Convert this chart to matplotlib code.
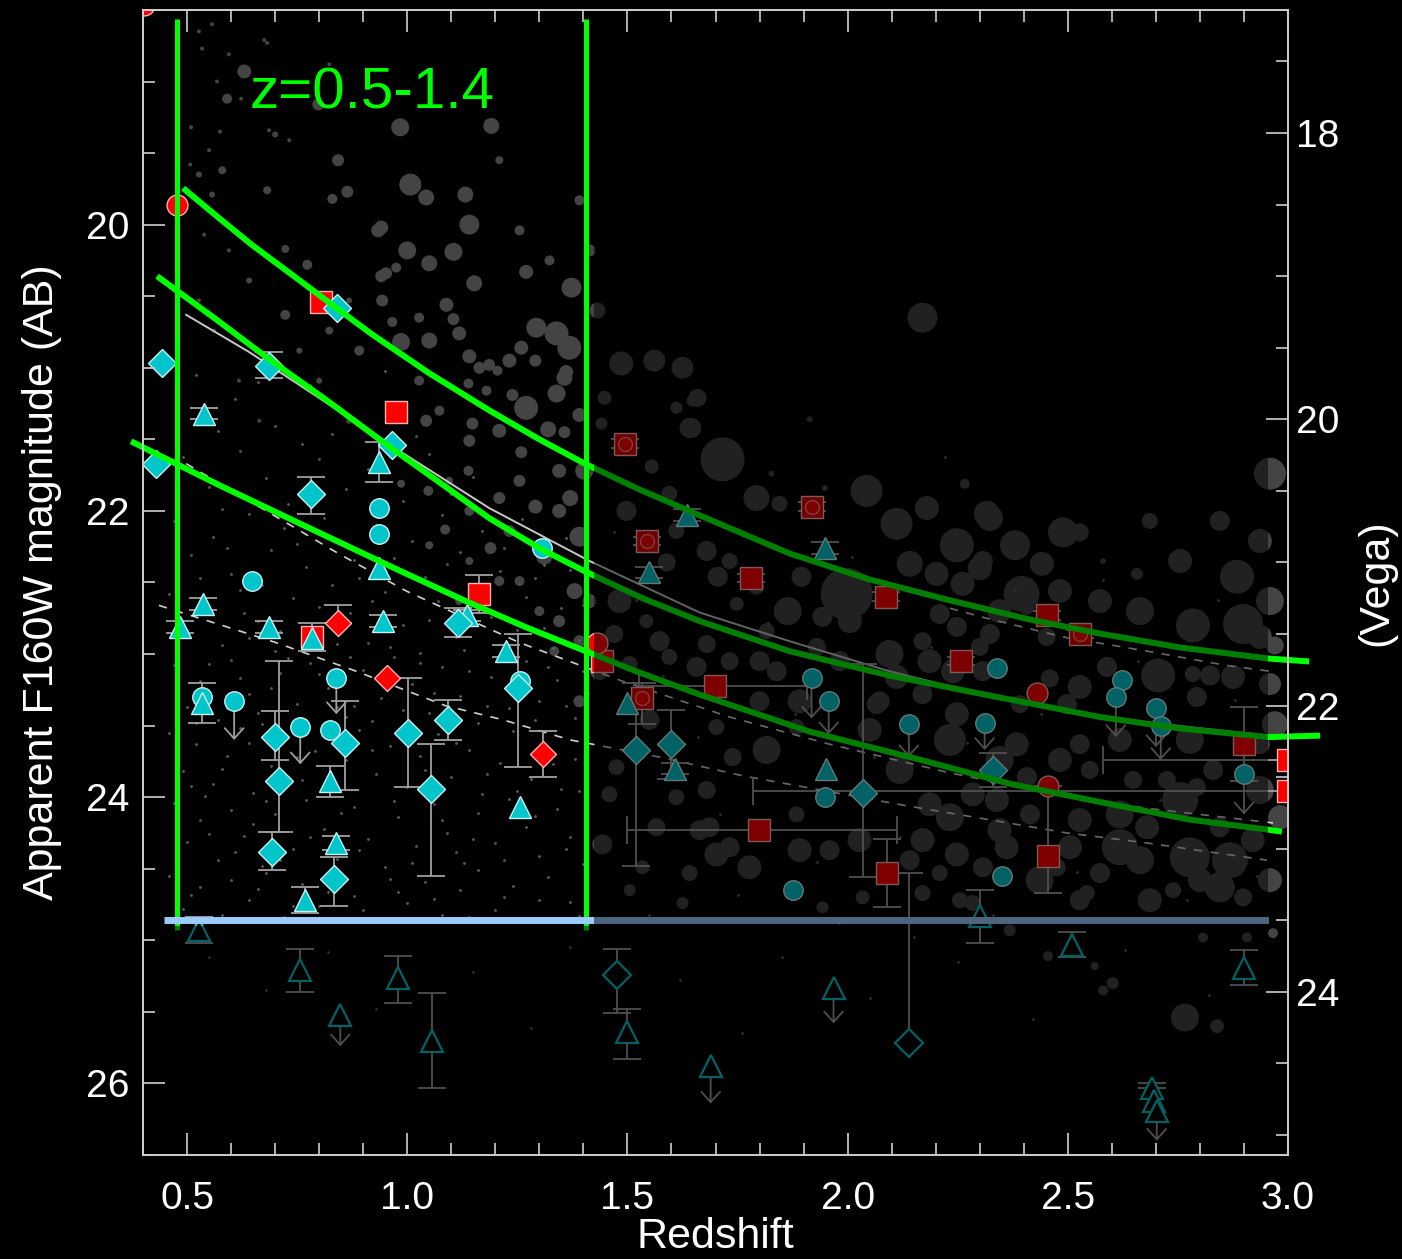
import matplotlib
matplotlib.use("Agg")
import matplotlib.pyplot as plt
from matplotlib.patches import Rectangle
from matplotlib.ticker import FixedLocator, MultipleLocator

plt.rcParams['font.family'] = ['Liberation Sans', 'DejaVu Sans']

AB_MINUS_VEGA = 1.36

# ---------------------------------------------------------------------------
# Field galaxies (grey background): (redshift, F160W AB mag, relative size)
# ---------------------------------------------------------------------------
field_low_z = [
    (0.984, 19.32, 9), (1.191, 19.31, 8), (1.007, 19.72, 11), (1.043, 19.81, 8),
    (1.132, 19.79, 8), (1.141, 20.00, 10), (0.941, 20.02, 7), (1.000, 20.18, 9),
    (1.105, 20.19, 9), (1.050, 20.27, 8), (1.270, 20.33, 7), (1.152, 20.41, 8),
    (1.373, 20.44, 10), (1.089, 20.56, 7), (1.105, 20.66, 6), (1.027, 20.65, 5),
    (1.118, 20.76, 7), (1.050, 20.81, 8), (0.986, 20.82, 9), (1.293, 20.72, 10),
    (1.339, 20.76, 12), (1.368, 20.86, 12), (1.259, 20.86, 7), (1.232, 20.95, 7),
    (1.141, 20.92, 7), (1.164, 21.00, 6), (1.186, 20.98, 6), (1.205, 21.02, 5),
    (1.357, 21.07, 8), (1.339, 21.18, 9), (1.270, 21.28, 12), (1.180, 21.16, 5),
    (0.943, 20.53, 6), (0.952, 20.34, 6), (0.975, 20.30, 5), (1.432, 20.60, 8),
    (1.486, 20.97, 12), (1.561, 20.95, 11), (1.625, 21.00, 11), (1.448, 21.21, 7),
    (1.611, 21.28, 6), (1.648, 21.23, 6), (1.645, 21.42, 10), (1.441, 21.39, 6),
    (1.148, 21.39, 6), (1.043, 21.37, 6), (1.357, 21.45, 6), (0.630, 18.93, 7),
    (0.591, 19.12, 5), (0.798, 19.16, 6), (0.843, 19.55, 6), (0.580, 19.62, 4),
    (0.682, 19.76, 4), (0.864, 19.77, 6), (0.830, 19.82, 5), (0.934, 20.04, 7),
    (0.773, 20.28, 5), (0.723, 20.17, 4), (0.941, 20.36, 6), (0.723, 20.63, 5),
    (0.966, 20.68, 5), (1.139, 21.11, 5), (1.239, 21.19, 6), (1.291, 20.95, 6),
    (1.361, 21.03, 7), (1.391, 21.33, 7), (1.320, 21.43, 8), (1.259, 21.59, 6),
    (1.139, 21.72, 5), (1.209, 21.91, 6), (1.291, 21.97, 7), (1.370, 21.91, 8),
    (1.391, 22.18, 10), (1.311, 22.32, 8), (1.189, 22.26, 6), (1.086, 22.13, 5),
    (1.048, 21.86, 5), (0.986, 21.81, 4), (1.345, 21.72, 7), (1.402, 21.72, 9),
    (1.380, 22.56, 8), (1.345, 22.77, 6), (1.255, 22.49, 5), (1.141, 22.35, 4),
    (1.050, 22.24, 4), (1.334, 22.98, 5), (1.391, 23.33, 6),
    (1.141, 21.51, 6), (1.209, 21.44, 7), (1.073, 21.30, 5), (1.027, 21.09, 5),
    (0.891, 20.88, 5), (0.823, 20.74, 4), (1.255, 21.79, 6), (1.345, 22.00, 7),
    (1.232, 22.14, 6), (1.141, 22.00, 5), (1.095, 21.79, 4), (1.414, 22.63, 7),
    (1.300, 22.70, 5), (1.391, 22.91, 6), (1.209, 22.49, 5), (1.118, 22.63, 4),
    (1.414, 20.18, 6), (1.323, 20.25, 5), (1.255, 20.04, 5), (1.391, 19.83, 5),
    (1.209, 19.55, 4),
]

field_small = [
    (0.550, 19.48, 2), (0.686, 19.34, 2), (0.641, 20.39, 3), (0.755, 20.88, 3),
    (0.868, 20.53, 3), (0.595, 20.18, 2), (0.527, 20.53, 2), (0.800, 21.09, 3),
    (0.664, 21.37, 2), (0.868, 21.37, 3), (0.618, 21.09, 2), (0.595, 18.81, 2),
    (0.675, 18.71, 2), (0.823, 18.88, 2), (0.732, 19.41, 2), (0.539, 20.07, 2),
    (0.561, 20.74, 2), (0.527, 18.65, 2), (0.534, 18.77, 2), (0.557, 18.60, 2),
    (0.682, 18.73, 2), (0.568, 19.00, 2), (0.623, 19.12, 2), (0.575, 19.35, 2),
    (0.700, 19.37, 3), (0.527, 19.65, 3), (0.557, 19.79, 3), (0.507, 19.58, 2),
    (0.509, 19.32, 2),
]

field_high_z = [
    (1.659, 21.21, 9), (1.614, 21.28, 5), (1.641, 21.42, 10), (1.716, 21.64, 22),
    (1.555, 21.69, 7), (1.793, 21.91, 13), (1.845, 21.95, 8), (2.043, 21.86, 16),
    (2.266, 21.81, 5), (2.316, 22.02, 13), (2.180, 21.98, 12), (2.111, 22.09, 16),
    (2.248, 22.24, 17), (2.307, 22.35, 10), (1.595, 21.88, 8), (1.498, 22.00, 10),
    (1.611, 22.14, 8), (1.680, 22.28, 10), (1.732, 22.35, 8), (1.589, 22.36, 9),
    (1.705, 22.46, 10), (1.895, 22.46, 10), (1.864, 22.70, 14), (1.998, 22.58, 26),
    (2.141, 22.37, 13), (2.202, 22.44, 12), (2.261, 22.51, 12), (2.300, 22.40, 12),
    (1.943, 22.74, 10), (1.793, 22.53, 8), (1.816, 22.84, 8), (1.748, 22.65, 7),
    (1.543, 22.77, 7), (1.470, 22.86, 9), (1.505, 23.07, 8), (1.595, 23.02, 8),
    (1.680, 22.93, 9), (1.732, 23.05, 9), (1.930, 22.95, 9), (1.982, 23.05, 10),
    (2.095, 23.00, 14), (2.170, 22.91, 9), (2.209, 22.72, 10), (2.248, 22.81, 10),
    (2.300, 22.95, 9), (2.307, 23.12, 10), (1.436, 23.12, 9), (1.657, 23.09, 10),
    (1.839, 23.12, 10), (2.111, 23.16, 12), (2.170, 23.28, 10), (2.239, 23.12, 12),
    (2.248, 23.42, 12), (2.066, 23.35, 10), (1.884, 23.51, 8), (1.816, 23.67, 14),
    (1.739, 23.72, 9), (1.702, 23.51, 8), (1.475, 23.79, 8), (1.680, 23.95, 9),
    (1.611, 24.00, 8), (1.459, 23.98, 8), (1.443, 24.33, 10), (1.566, 24.21, 9),
    (1.686, 24.21, 10), (1.732, 24.35, 10), (1.702, 24.40, 12), (1.777, 24.49, 12),
    (1.641, 24.53, 8), (1.534, 24.49, 7), (1.884, 24.12, 8), (1.959, 24.37, 10),
    (2.186, 24.05, 12), (2.232, 24.14, 14), (2.284, 23.98, 12), (2.248, 24.40, 12),
    (2.170, 24.30, 12), (2.141, 24.44, 10), (2.209, 24.53, 8), (2.307, 24.49, 10),
    (2.034, 24.70, 7), (2.170, 24.67, 8), (1.625, 24.74, 6), (1.505, 24.65, 6),
    (1.943, 24.77, 6), (2.284, 24.74, 8),
    (2.705, 23.15, 17), (2.527, 23.23, 12), (2.459, 23.17, 9), (2.498, 23.35, 10),
    (2.823, 23.15, 10), (2.793, 23.30, 10), (2.875, 23.16, 12), (2.959, 23.21, 11),
    (2.970, 23.49, 13), (2.936, 23.63, 10), (2.830, 23.81, 10), (2.793, 23.93, 9),
    (2.725, 23.88, 9), (2.648, 23.88, 9), (2.550, 23.81, 9), (2.391, 23.35, 9),
    (2.384, 23.63, 12), (2.407, 23.86, 10), (2.527, 23.63, 10), (2.618, 24.12, 14),
    (2.527, 24.16, 12), (2.414, 24.12, 10), (2.339, 24.02, 12), (2.361, 24.35, 12),
    (2.505, 24.35, 12), (2.618, 24.35, 18), (2.680, 24.21, 12), (2.777, 24.42, 20),
    (2.845, 24.21, 10), (2.920, 24.30, 12), (2.982, 24.14, 12), (2.845, 24.63, 15),
    (2.898, 24.70, 9), (2.573, 24.53, 10), (2.475, 24.49, 9), (2.543, 24.67, 8),
    (2.739, 24.65, 8), (2.766, 25.54, 14), (2.839, 25.60, 7), (2.602, 25.30, 6),
    (2.580, 25.35, 5), (2.966, 24.95, 5), (2.455, 25.11, 5), (2.561, 25.18, 4),
    (2.807, 24.98, 5), (2.907, 24.98, 5), (2.323, 22.05, 13), (2.380, 22.24, 15),
    (2.489, 22.15, 15), (2.527, 22.15, 9), (2.441, 22.37, 12), (2.395, 22.58, 18),
    (2.323, 22.86, 10), (2.452, 22.88, 9), (2.407, 22.67, 8), (2.657, 22.44, 6),
    (2.580, 22.35, 3), (2.884, 22.46, 17), (2.784, 22.80, 17), (2.898, 22.79, 20),
    (2.936, 22.88, 12), (2.970, 22.94, 9), (2.959, 21.74, 16), (2.589, 23.09, 10),
    (2.784, 23.14, 8), (2.170, 20.65, 15), (1.914, 21.36, 3), (1.827, 21.74, 3),
    (2.264, 21.81, 4), (1.948, 21.84, 3),
    (2.755, 24.02, 18), (2.868, 24.44, 18), (2.936, 23.95, 14), (2.664, 24.44, 14),
    (2.436, 24.58, 14), (2.686, 24.72, 12), (2.345, 23.74, 14), (2.232, 23.60, 16),
    (2.118, 23.81, 14), (2.050, 23.53, 12), (2.482, 23.74, 12), (2.618, 23.60, 12),
    (2.777, 23.60, 14), (2.664, 22.70, 14), (2.573, 22.63, 12), (2.482, 22.56, 12),
    (2.755, 22.35, 12), (2.845, 22.07, 10), (2.686, 22.07, 8), (1.891, 23.33, 12),
    (1.800, 23.33, 10), (1.550, 23.46, 10), (1.664, 24.23, 10), (1.891, 24.37, 12),
    (2.027, 24.30, 12), (2.345, 24.23, 12), (1.482, 22.63, 12), (1.573, 22.91, 10),
    (1.800, 23.05, 10), (2.005, 22.77, 12), (2.073, 23.33, 10), (2.186, 23.05, 12),
    (2.345, 22.70, 12), (2.936, 22.21, 12), (2.959, 22.63, 14), (2.800, 24.58, 12),
    (2.959, 24.58, 12), (2.527, 24.72, 10), (2.255, 24.72, 8), (2.368, 24.93, 6),
]

# faint field sources (tiny specks)
faint = [
    (0.52, 21.05), (0.61, 21.22), (0.70, 21.41), (0.78, 21.12), (0.88, 21.35),
    (1.02, 21.48), (0.57, 21.44), (0.66, 21.10), (0.83, 21.46), (0.95, 21.02),
    (0.49, 21.62), (0.55, 21.83), (0.62, 21.58), (0.68, 21.77), (0.73, 21.95),
    (0.80, 21.64), (0.86, 21.85), (0.91, 21.71), (0.99, 21.93), (1.05, 21.60),
    (1.10, 21.88), (0.58, 21.99), (0.76, 21.53), (0.94, 21.97), (1.15, 21.76),
    (0.47, 22.07), (0.51, 22.31), (0.56, 22.18), (0.60, 22.44), (0.64, 22.02),
    (0.69, 22.27), (0.72, 22.12), (0.77, 22.39), (0.81, 22.05), (0.85, 22.22),
    (0.89, 22.47), (0.93, 22.10), (0.97, 22.33), (1.01, 22.21), (1.04, 22.46),
    (1.08, 22.03), (1.12, 22.29), (1.17, 22.14), (1.21, 22.42), (1.26, 22.06),
    (1.31, 22.38), (1.36, 22.19),
    (0.46, 22.58), (0.50, 22.83), (0.54, 22.66), (0.58, 22.94), (0.62, 22.55),
    (0.66, 22.77), (0.70, 22.98), (0.74, 22.61), (0.79, 22.86), (0.83, 22.52),
    (0.87, 22.71), (0.91, 22.92), (0.95, 22.57), (0.99, 22.80), (1.03, 22.99),
    (1.07, 22.63), (1.11, 22.88), (1.15, 22.54), (1.19, 22.74), (1.23, 22.95),
    (1.27, 22.60), (1.31, 22.82), (1.35, 22.68), (1.39, 22.90), (0.64, 22.89),
    (0.47, 23.08), (0.50, 23.37), (0.53, 23.19), (0.57, 23.46), (0.60, 23.04),
    (0.64, 23.28), (0.67, 23.49), (0.71, 23.13), (0.75, 23.35), (0.78, 23.06),
    (0.82, 23.24), (0.86, 23.44), (0.90, 23.11), (0.94, 23.31), (0.97, 23.02),
    (1.01, 23.21), (1.05, 23.41), (1.08, 23.09), (1.12, 23.29), (1.16, 23.48),
    (1.19, 23.16), (1.23, 23.38), (1.27, 23.05), (1.30, 23.33), (1.34, 23.18),
    (1.38, 23.45), (1.41, 23.27), (0.88, 23.36),
    (0.46, 23.55), (0.49, 23.82), (0.52, 23.63), (0.56, 23.91), (0.59, 23.71),
    (0.62, 23.52), (0.65, 23.97), (0.69, 23.78), (0.72, 23.59), (0.76, 23.88),
    (0.79, 23.68), (0.83, 23.95), (0.86, 23.74), (0.89, 23.53), (0.93, 23.84),
    (0.96, 23.64), (1.00, 23.93), (1.03, 23.71), (1.07, 23.56), (1.10, 23.86),
    (1.14, 23.67), (1.17, 23.98), (1.21, 23.76), (1.24, 23.54), (1.28, 23.87),
    (1.31, 23.66), (1.35, 23.94), (1.38, 23.73), (1.41, 23.58), (0.54, 23.99),
    (0.47, 24.04), (0.50, 24.31), (0.53, 24.16), (0.57, 24.44), (0.60, 24.09),
    (0.63, 24.27), (0.67, 24.48), (0.70, 24.12), (0.74, 24.36), (0.77, 24.02),
    (0.81, 24.22), (0.84, 24.43), (0.88, 24.07), (0.91, 24.29), (0.95, 24.49),
    (0.98, 24.14), (1.02, 24.34), (1.06, 24.05), (1.09, 24.25), (1.13, 24.46),
    (1.16, 24.11), (1.20, 24.32), (1.23, 24.01), (1.27, 24.21), (1.30, 24.41),
    (1.34, 24.08), (1.37, 24.28), (1.40, 24.47), (0.65, 24.19), (1.11, 24.38),
    (0.46, 24.55), (0.49, 24.78), (0.53, 24.63), (0.56, 24.86), (0.60, 24.58),
    (0.64, 24.72), (0.68, 24.53), (0.72, 24.84), (0.76, 24.61), (0.80, 24.76),
    (0.84, 24.52), (0.88, 24.69), (0.92, 24.87), (0.96, 24.57), (1.00, 24.74),
    (1.04, 24.59), (1.08, 24.82), (1.12, 24.65), (1.16, 24.51), (1.20, 24.79),
    (1.24, 24.62), (1.28, 24.85), (1.32, 24.56), (1.37, 24.73),
    (0.55, 25.12), (0.68, 25.35), (0.82, 25.08), (0.93, 25.48), (1.15, 25.22),
    (1.28, 25.61), (1.37, 25.05), (1.62, 25.28), (1.85, 25.12), (2.05, 25.40),
    (2.25, 25.15), (2.42, 25.55), (2.63, 25.07), (2.82, 25.38), (1.76, 25.65),
    (2.15, 24.98),
    (1.47, 22.15), (1.52, 22.62), (1.58, 23.15), (1.66, 23.58), (1.71, 24.12),
    (1.75, 24.68), (1.82, 22.78), (1.88, 23.42), (1.93, 24.45), (2.01, 22.32),
    (2.06, 23.72), (2.12, 24.28), (2.19, 22.95), (2.27, 23.62), (2.33, 24.82),
    (2.38, 22.55), (2.44, 23.42), (2.52, 24.52), (2.58, 22.48), (2.66, 23.05),
    (2.71, 24.02), (2.77, 24.72), (2.84, 22.62), (2.88, 23.32), (2.93, 24.55),
    (1.55, 24.82), (1.98, 24.88), (2.48, 24.85), (1.63, 22.05), (2.22, 21.62),
    (0.48, 22.35), (0.53, 22.47), (0.59, 22.26), (0.63, 22.71), (0.67, 22.52),
    (0.71, 22.84), (0.75, 22.23), (0.80, 22.67), (0.84, 22.93), (0.88, 22.34),
    (0.92, 22.63), (0.96, 22.95), (1.00, 22.44), (1.05, 22.76), (1.09, 22.37),
    (1.13, 22.97), (1.18, 22.58), (1.22, 22.26), (1.25, 22.83), (1.29, 22.47),
    (1.33, 22.96), (1.37, 22.41), (1.40, 22.66), (0.48, 23.26), (0.52, 23.48),
    (0.55, 23.07), (0.59, 23.38), (0.62, 23.17), (0.66, 23.41), (0.69, 23.24),
    (0.73, 23.03), (0.77, 23.47), (0.80, 23.14), (0.84, 23.37), (0.87, 23.02),
    (0.92, 23.47), (0.95, 23.18), (0.99, 23.39), (1.03, 23.06), (1.06, 23.27),
    (1.10, 23.43), (1.14, 23.12), (1.18, 23.36), (1.21, 23.03), (1.25, 23.23),
    (1.29, 23.46), (1.32, 23.09), (1.36, 23.36), (1.40, 23.12), (0.48, 24.17),
    (0.51, 23.92), (0.55, 24.26), (0.58, 23.80), (0.61, 24.38), (0.64, 23.62),
    (0.68, 24.03), (0.71, 24.44), (0.75, 23.72), (0.78, 24.28), (0.82, 23.58),
    (0.85, 24.11), (0.89, 24.37), (0.92, 23.67), (0.97, 24.03), (1.01, 24.46),
    (1.04, 23.81), (1.08, 24.16), (1.11, 23.62), (1.15, 24.29), (1.18, 23.84),
    (1.22, 24.44), (1.25, 23.96), (1.29, 24.13), (1.33, 23.77), (1.36, 24.36),
    (1.39, 23.96), (0.51, 24.68), (0.58, 24.82), (0.66, 24.64), (0.74, 24.76),
    (0.82, 24.66), (0.90, 24.79), (0.98, 24.66), (1.06, 24.71), (1.14, 24.84),
    (1.22, 24.70), (1.30, 24.72), (1.39, 24.83),
]

# ---------------------------------------------------------------------------
# Model tracks
# ---------------------------------------------------------------------------
track_solid_z = [0.498, 0.641, 0.755, 0.982, 1.186, 1.414, 1.664, 1.868, 2.095, 2.345, 2.573, 2.955]
track_solid_mag = [20.63, 20.89, 21.12, 21.58, 21.98, 22.35, 22.71, 22.91, 23.12, 23.31, 23.44, 23.57]
track_dash0_z = [2.232, 2.316, 2.489, 2.680, 2.861, 2.959]
track_dash0_mag = [22.68, 22.75, 22.88, 22.98, 23.08, 23.12]
track_dash1_z = [0.498, 0.845, 0.998, 1.255, 1.489, 1.732, 1.959, 2.232, 2.505, 2.686, 2.966]
track_dash1_mag = [21.67, 22.30, 22.56, 22.92, 23.19, 23.44, 23.63, 23.83, 24.00, 24.08, 24.18]
track_dash2_z = [0.436, 0.580, 0.702, 0.884, 1.086, 1.218, 1.370, 1.573, 1.761, 2.134, 2.307, 2.498, 2.680, 2.952]
track_dash2_mag = [22.66, 22.80, 22.92, 23.12, 23.36, 23.46, 23.60, 23.72, 23.85, 24.06, 24.15, 24.25, 24.32, 24.44]

# Highlighted m* tracks (green)
green_top_z = [0.491, 0.573, 0.648, 0.755, 0.843, 0.920, 1.050, 1.186, 1.300, 1.402,
               1.527, 1.664, 1.868, 2.050, 2.234, 2.414, 2.573, 2.755, 2.955, 3.048]
green_top_mag = [19.745, 19.955, 20.143, 20.388, 20.591, 20.766, 21.038, 21.297, 21.500, 21.668,
                 21.850, 22.031, 22.297, 22.479, 22.626, 22.759, 22.857, 22.954, 23.031, 23.052]
green_mid_z = [0.432, 0.561, 0.682, 0.823, 0.959, 1.073, 1.186, 1.300, 1.402, 1.534,
               1.664, 1.868, 2.095, 2.273, 2.573, 2.755, 2.955, 3.073]
green_mid_mag = [20.36, 20.65, 20.93, 21.24, 21.55, 21.80, 22.05, 22.26, 22.42, 22.61,
                 22.77, 22.98, 23.15, 23.26, 23.44, 23.52, 23.58, 23.57]
green_low_z = [0.373, 0.573, 0.784, 0.982, 1.130, 1.266, 1.402, 1.527, 1.664, 1.914,
               2.173, 2.368, 2.580, 2.777, 2.955, 2.986]
green_low_mag = [21.514, 21.82, 22.129, 22.416, 22.626, 22.808, 22.976, 23.129, 23.283, 23.542,
                 23.745, 23.906, 24.038, 24.157, 24.227, 24.241]

window_z = [0.477, 1.407]
window_mag_top = 18.56
window_mag_bottom = 24.93
limit_z = [0.448, 2.955]
limit_mag = 24.86
dim_from_z = 1.425
dim_to_z = 2.955
dim_below_mag = 24.90

# ---------------------------------------------------------------------------
# Cluster / group members
# ---------------------------------------------------------------------------
# filled cyan diamonds
cd_z = [0.443, 0.430, 0.686, 0.841, 0.782, 0.700, 0.709, 0.693, 0.834, 0.859,
        1.002, 1.055, 1.093, 1.116, 1.252, 0.966, 1.520, 1.600, 2.034, 2.330]
cd_mag = [20.97, 21.67, 20.99, 20.58, 21.88, 23.58, 23.89, 24.38, 24.57, 23.62,
          23.55, 23.94, 23.46, 22.78, 23.24, 21.54, 23.67, 23.63, 23.97, 23.81]
cd_elo = [0, 0, 0.10, 0, 0.12, 0.18, 0.84, 0.14, 0.15, 0.29,
          0.38, 0.31, 0.14, 0.10, 0.38, 0, 0.47, 0.24, 0.90, 0.12]
cd_ehi = [0, 0, 0.08, 0, 0.14, 0.16, 0.35, 0.13, 0.19, 0.33,
          0.38, 0.61, 0.14, 0.10, 0.55, 0, 0.81, 0.24, 0.59, 0.12]

# filled cyan triangles
ct_z = [0.539, 0.936, 0.936, 0.536, 0.484, 0.686, 0.945, 0.784, 1.136, 1.225,
        0.534, 0.825, 0.839, 0.768, 1.255, 1.548, 1.636, 1.948, 1.498, 1.607, 1.950]
ct_mag = [21.32, 21.66, 22.40, 22.65, 22.81, 22.81, 22.77, 22.89, 22.73, 22.98,
          23.34, 23.89, 24.32, 24.72, 24.07, 22.43, 22.03, 22.26, 23.34, 23.80, 23.80]
ct_err = [0.04, 0.14, 0, 0.04, 0.04, 0.04, 0.04, 0, 0.04, 0.04,
          0.14, 0.11, 0.05, 0.09, 0, 0.04, 0.04, 0.04, 0, 0.04, 0]

# filled cyan circles
cc_z = [0.534, 0.607, 0.648, 0.757, 0.825, 0.839, 0.936, 0.936, 1.307, 1.257,
        1.918, 1.957, 1.948, 1.877, 2.139, 2.339, 2.311, 2.350, 2.623, 2.609,
        2.700, 2.711, 2.900]
cc_mag = [23.30, 23.33, 22.49, 23.51, 23.53, 23.17, 21.98, 22.16, 22.26, 23.19,
          23.17, 23.33, 24.00, 24.65, 23.49, 23.10, 23.48, 24.55, 23.18, 23.30,
          23.38, 23.50, 23.84]

# upper limits (arrow from magnitude down to the limit)
ul_z = [0.607, 0.757, 0.839, 1.918, 1.957, 2.139, 2.311, 2.700, 2.711, 2.900, 2.609,
        0.848, 1.689, 1.968, 2.702]
ul_mag = [23.33, 23.51, 23.17, 23.17, 23.33, 23.49, 23.48, 23.38, 23.50, 23.84, 23.30,
          25.52, 25.88, 25.33, 26.19]
ul_lim = [23.60, 23.77, 23.42, 23.45, 23.56, 23.72, 23.67, 23.65, 23.74, 24.12, 23.58,
          25.74, 26.14, 25.58, 26.40]

# red squares
rs_z = [0.805, 0.975, 1.164, 0.784, 1.443, 1.780, 2.086, 2.257, 2.452, 1.698,
        1.798, 2.089, 2.455, 2.900, 3.000, 3.000]
rs_mag = [20.54, 21.31, 22.58, 22.88, 23.05, 22.47, 22.60, 23.05, 22.73, 23.22,
          24.23, 24.53, 24.41, 23.63, 23.74, 23.96]
rs_elo = [0, 0, 0.13, 0.10, 0, 0.03, 0.03, 0.03, 0.03, 0, 0, 0.24, 0.49, 0.26, 0, 0]
rs_ehi = [0, 0, 0.13, 0.10, 0, 0.03, 0.03, 0.03, 0.03, 0, 0, 0.24, 0.26, 0.26, 0, 0]
rs_zlo = [0, 0, 0, 0, 0, 0, 0, 0, 0, 0.171, 0.300, 0, 0, 0, 0.420, 1.214]
rs_zhi = [0, 0, 0, 0, 0, 0, 0, 0, 0, 0.209, 0.313, 0, 0, 0, 0, 0]

# red squares hosting a second (circle) source
rsc_z = [1.495, 1.545, 1.920, 2.527, 1.532]
rsc_mag = [21.53, 22.21, 21.97, 22.86, 23.31]
rsc_elo = [0.03, 0.03, 0.03, 0.03, 0.11]
rsc_ehi = [0.03, 0.03, 0.03, 0.03, 0.18]

# red circles
rc_z = [0.477, 0.402, 1.430, 2.430, 2.455]
rc_mag = [19.86, 18.465, 22.92, 23.27, 23.92]

# red diamonds
rd_z = [0.843, 0.955, 1.309]
rd_mag = [22.78, 23.17, 23.70]
rd_elo = [0.12, 0, 0.16]
rd_ehi = [0, 0, 0.16]

# faint members (open symbols)
ht_z = [0.527, 0.757, 0.848, 0.980, 1.057, 1.498, 1.689, 1.968, 2.300, 2.509,
        2.900, 2.691, 2.695, 2.702]
ht_mag = [24.93, 25.21, 25.52, 25.26, 25.70, 25.64, 25.88, 25.33, 24.83, 25.03,
          25.19, 26.03, 26.12, 26.19]
ht_elo = [0.09, 0.15, 0, 0.15, 0.33, 0.16, 0, 0, 0.18, 0.09, 0.12, 0.03, 0, 0]
ht_ehi = [0.09, 0.15, 0, 0.18, 0.33, 0.19, 0, 0, 0.19, 0.09, 0.12, 0, 0, 0]
hd_z = [1.477, 2.139]
hd_mag = [25.24, 25.72]
hd_elo = [0.18, 1.19]
hd_ehi = [0.27, 0]

# ---------------------------------------------------------------------------
CYAN = '#00c6cc'
CYAN_EDGE = '#c8f2f2'
RED = '#ff0000'
RED_EDGE = '#ffb4b4'
BAR = '#a0a0a0'
FIELD = '#444444'
GREEN = '#00ff00'
AXCOL = '#cfcfcf'

fig = plt.figure(figsize=(14.02, 12.59), dpi=100)
fig.patch.set_facecolor('black')
ax = fig.add_axes([0.1020, 0.0826, 0.8167, 0.9095])
ax.set_facecolor('black')
ax.set_xlim(0.4, 3.0)
ax.set_ylim(26.5, 18.5)


def field(cat, color=FIELD):
    zz = [c[0] for c in cat]
    mm = [c[1] for c in cat]
    ss = [2.07 * c[2] ** 2 for c in cat]
    ax.scatter(zz, mm, s=ss, c=color, linewidths=0, zorder=1)


field(field_low_z)
field(field_small)
field(field_high_z)
ax.scatter([f[0] for f in faint], [f[1] for f in faint], s=4, c='#5e5e5e',
           linewidths=0, zorder=1)

# model tracks
ax.plot(track_solid_z, track_solid_mag, color='#c8c8c8', lw=1.4, zorder=1.5)
for tz, tm in ((track_dash0_z, track_dash0_mag), (track_dash1_z, track_dash1_mag),
               (track_dash2_z, track_dash2_mag)):
    ax.plot(tz, tm, color='#d0d0d0', lw=1.2, dashes=(5, 5), zorder=1.5)


def vbars(z, mag, lo, hi):
    idx = [i for i in range(len(z)) if lo[i] > 0 or hi[i] > 0]
    if not idx:
        return
    ax.errorbar([z[i] for i in idx], [mag[i] for i in idx],
                yerr=[[lo[i] for i in idx], [hi[i] for i in idx]],
                fmt='none', ecolor=BAR, elinewidth=1.3, capsize=10, capthick=1.3,
                zorder=2)


def hbars(z, mag, lo, hi):
    idx = [i for i in range(len(z)) if lo[i] > 0 or hi[i] > 0]
    if not idx:
        return
    ax.errorbar([z[i] for i in idx], [mag[i] for i in idx],
                xerr=[[lo[i] for i in idx], [hi[i] for i in idx]],
                fmt='none', ecolor=BAR, elinewidth=1.3, capsize=10, capthick=1.3,
                zorder=2)


def pts(z, mag, marker, ms, face, edge, mew=1.0, zo=3):
    ax.plot(z, mag, ls='none', marker=marker, ms=ms, mfc=face, mec=edge, mew=mew,
            zorder=zo)


# error bars
vbars(cd_z, cd_mag, cd_elo, cd_ehi)
vbars(ct_z, ct_mag, ct_err, ct_err)
vbars(rs_z, rs_mag, rs_elo, rs_ehi)
hbars(rs_z, rs_mag, rs_zlo, rs_zhi)
vbars(rsc_z, rsc_mag, rsc_elo, rsc_ehi)
vbars(rd_z, rd_mag, rd_elo, rd_ehi)
vbars(ht_z, ht_mag, ht_elo, ht_ehi)
vbars(hd_z, hd_mag, hd_elo, hd_ehi)

# upper-limit arrows
for z, m, lim in zip(ul_z, ul_mag, ul_lim):
    ax.annotate('', xy=(z, lim), xytext=(z, m),
                arrowprops=dict(arrowstyle='->,head_length=0.5,head_width=0.45',
                                color=BAR, lw=1.3, shrinkA=0, shrinkB=0,
                                mutation_scale=15),
                zorder=2)

# symbols (red first, cyan drawn over them)
pts(rs_z, rs_mag, 's', 16, RED, RED_EDGE)
pts(rsc_z, rsc_mag, 's', 16, '#e00000', '#ffb4b4')
pts(rsc_z, rsc_mag, 'o', 10, RED, '#ff8080', zo=3.05)
pts(rc_z, rc_mag, 'o', 15, RED, RED_EDGE)
pts(rd_z, rd_mag, 'D', 13, RED, RED_EDGE)
pts(cc_z, cc_mag, 'o', 14, CYAN, CYAN_EDGE, zo=3.1)
pts(ct_z, ct_mag, '^', 16, CYAN, CYAN_EDGE, zo=3.1)
pts(cd_z, cd_mag, 'D', 14, CYAN, CYAN_EDGE, zo=3.1)
pts(ht_z, ht_mag, '^', 16, 'black', CYAN, mew=1.6)
pts(hd_z, hd_mag, 'D', 14, 'black', CYAN, mew=1.6)

# highlighted tracks and redshift window
for gz, gm in ((green_top_z, green_top_mag), (green_mid_z, green_mid_mag),
               (green_low_z, green_low_mag)):
    ax.plot(gz, gm, color=GREEN, lw=4.3, zorder=4, clip_on=False,
            solid_capstyle='butt', solid_joinstyle='round')
for wz in window_z:
    ax.plot([wz, wz], [window_mag_top, window_mag_bottom], color=GREEN, lw=3.6,
            zorder=4, solid_capstyle='butt')
ax.plot(limit_z, [limit_mag, limit_mag], color='#9ccbff', lw=5, zorder=4,
        solid_capstyle='butt')

# shade everything outside the selected window
ax.add_patch(Rectangle((dim_from_z, 18.5), dim_to_z - dim_from_z, 8.0,
                       facecolor='black', edgecolor='none', alpha=0.5, zorder=5))
ax.add_patch(Rectangle((0.4, dim_below_mag), dim_from_z - 0.4, 26.5 - dim_below_mag,
                       facecolor='black', edgecolor='none', alpha=0.5, zorder=5))

ax.text(0.641, 19.19, 'z=0.5-1.4', color=GREEN, fontsize=42, va='baseline',
        zorder=6)

# axes styling
for sp in ax.spines.values():
    sp.set_color(AXCOL)
    sp.set_linewidth(1.2)
    sp.set_zorder(10)
ax.xaxis.set_zorder(10)
ax.yaxis.set_zorder(10)

ax.xaxis.set_major_locator(FixedLocator([0.5, 1.0, 1.5, 2.0, 2.5, 3.0]))
ax.xaxis.set_minor_locator(MultipleLocator(0.1))
ax.yaxis.set_major_locator(FixedLocator([20, 22, 24, 26]))
ax.yaxis.set_minor_locator(MultipleLocator(0.5))
ax.set_xticklabels(['0.5', '1.0', '1.5', '2.0', '2.5', '3.0'])
ax.set_yticklabels(['20', '22', '24', '26'])

ax2 = ax.twinx()
ax2.set_ylim(26.5 - AB_MINUS_VEGA, 18.5 - AB_MINUS_VEGA)
ax2.yaxis.set_major_locator(FixedLocator([18, 20, 22, 24]))
ax2.yaxis.set_minor_locator(MultipleLocator(0.5))
ax2.set_yticklabels(['18', '20', '22', '24'])
for sp in ax2.spines.values():
    sp.set_color(AXCOL)
    sp.set_linewidth(1.2)

ax.tick_params(axis='both', which='both', direction='in', colors=AXCOL,
               labelcolor='white', labelsize=28, width=1.2, top=True,
               bottom=True, left=True, right=False)
ax.tick_params(axis='both', which='major', length=16)
ax.tick_params(axis='both', which='minor', length=8.5)
ax.tick_params(axis='x', pad=19)
ax.tick_params(axis='y', pad=10)
ax2.tick_params(axis='y', which='both', direction='in', colors=AXCOL,
                labelcolor='white', labelsize=28, width=1.2, left=False, right=True,
                pad=6)
ax2.tick_params(axis='y', which='major', length=16)
ax2.tick_params(axis='y', which='minor', length=8.5)

ax.set_xlabel('Redshift', color='white', fontsize=31, labelpad=0)
ax.set_ylabel('Apparent F160W magnitude (AB)', color='white', fontsize=31,
              labelpad=17)
ax2.set_ylabel('(Vega)', color='white', fontsize=31, labelpad=12)

fig.savefig('out.png', dpi=100, facecolor='black')
